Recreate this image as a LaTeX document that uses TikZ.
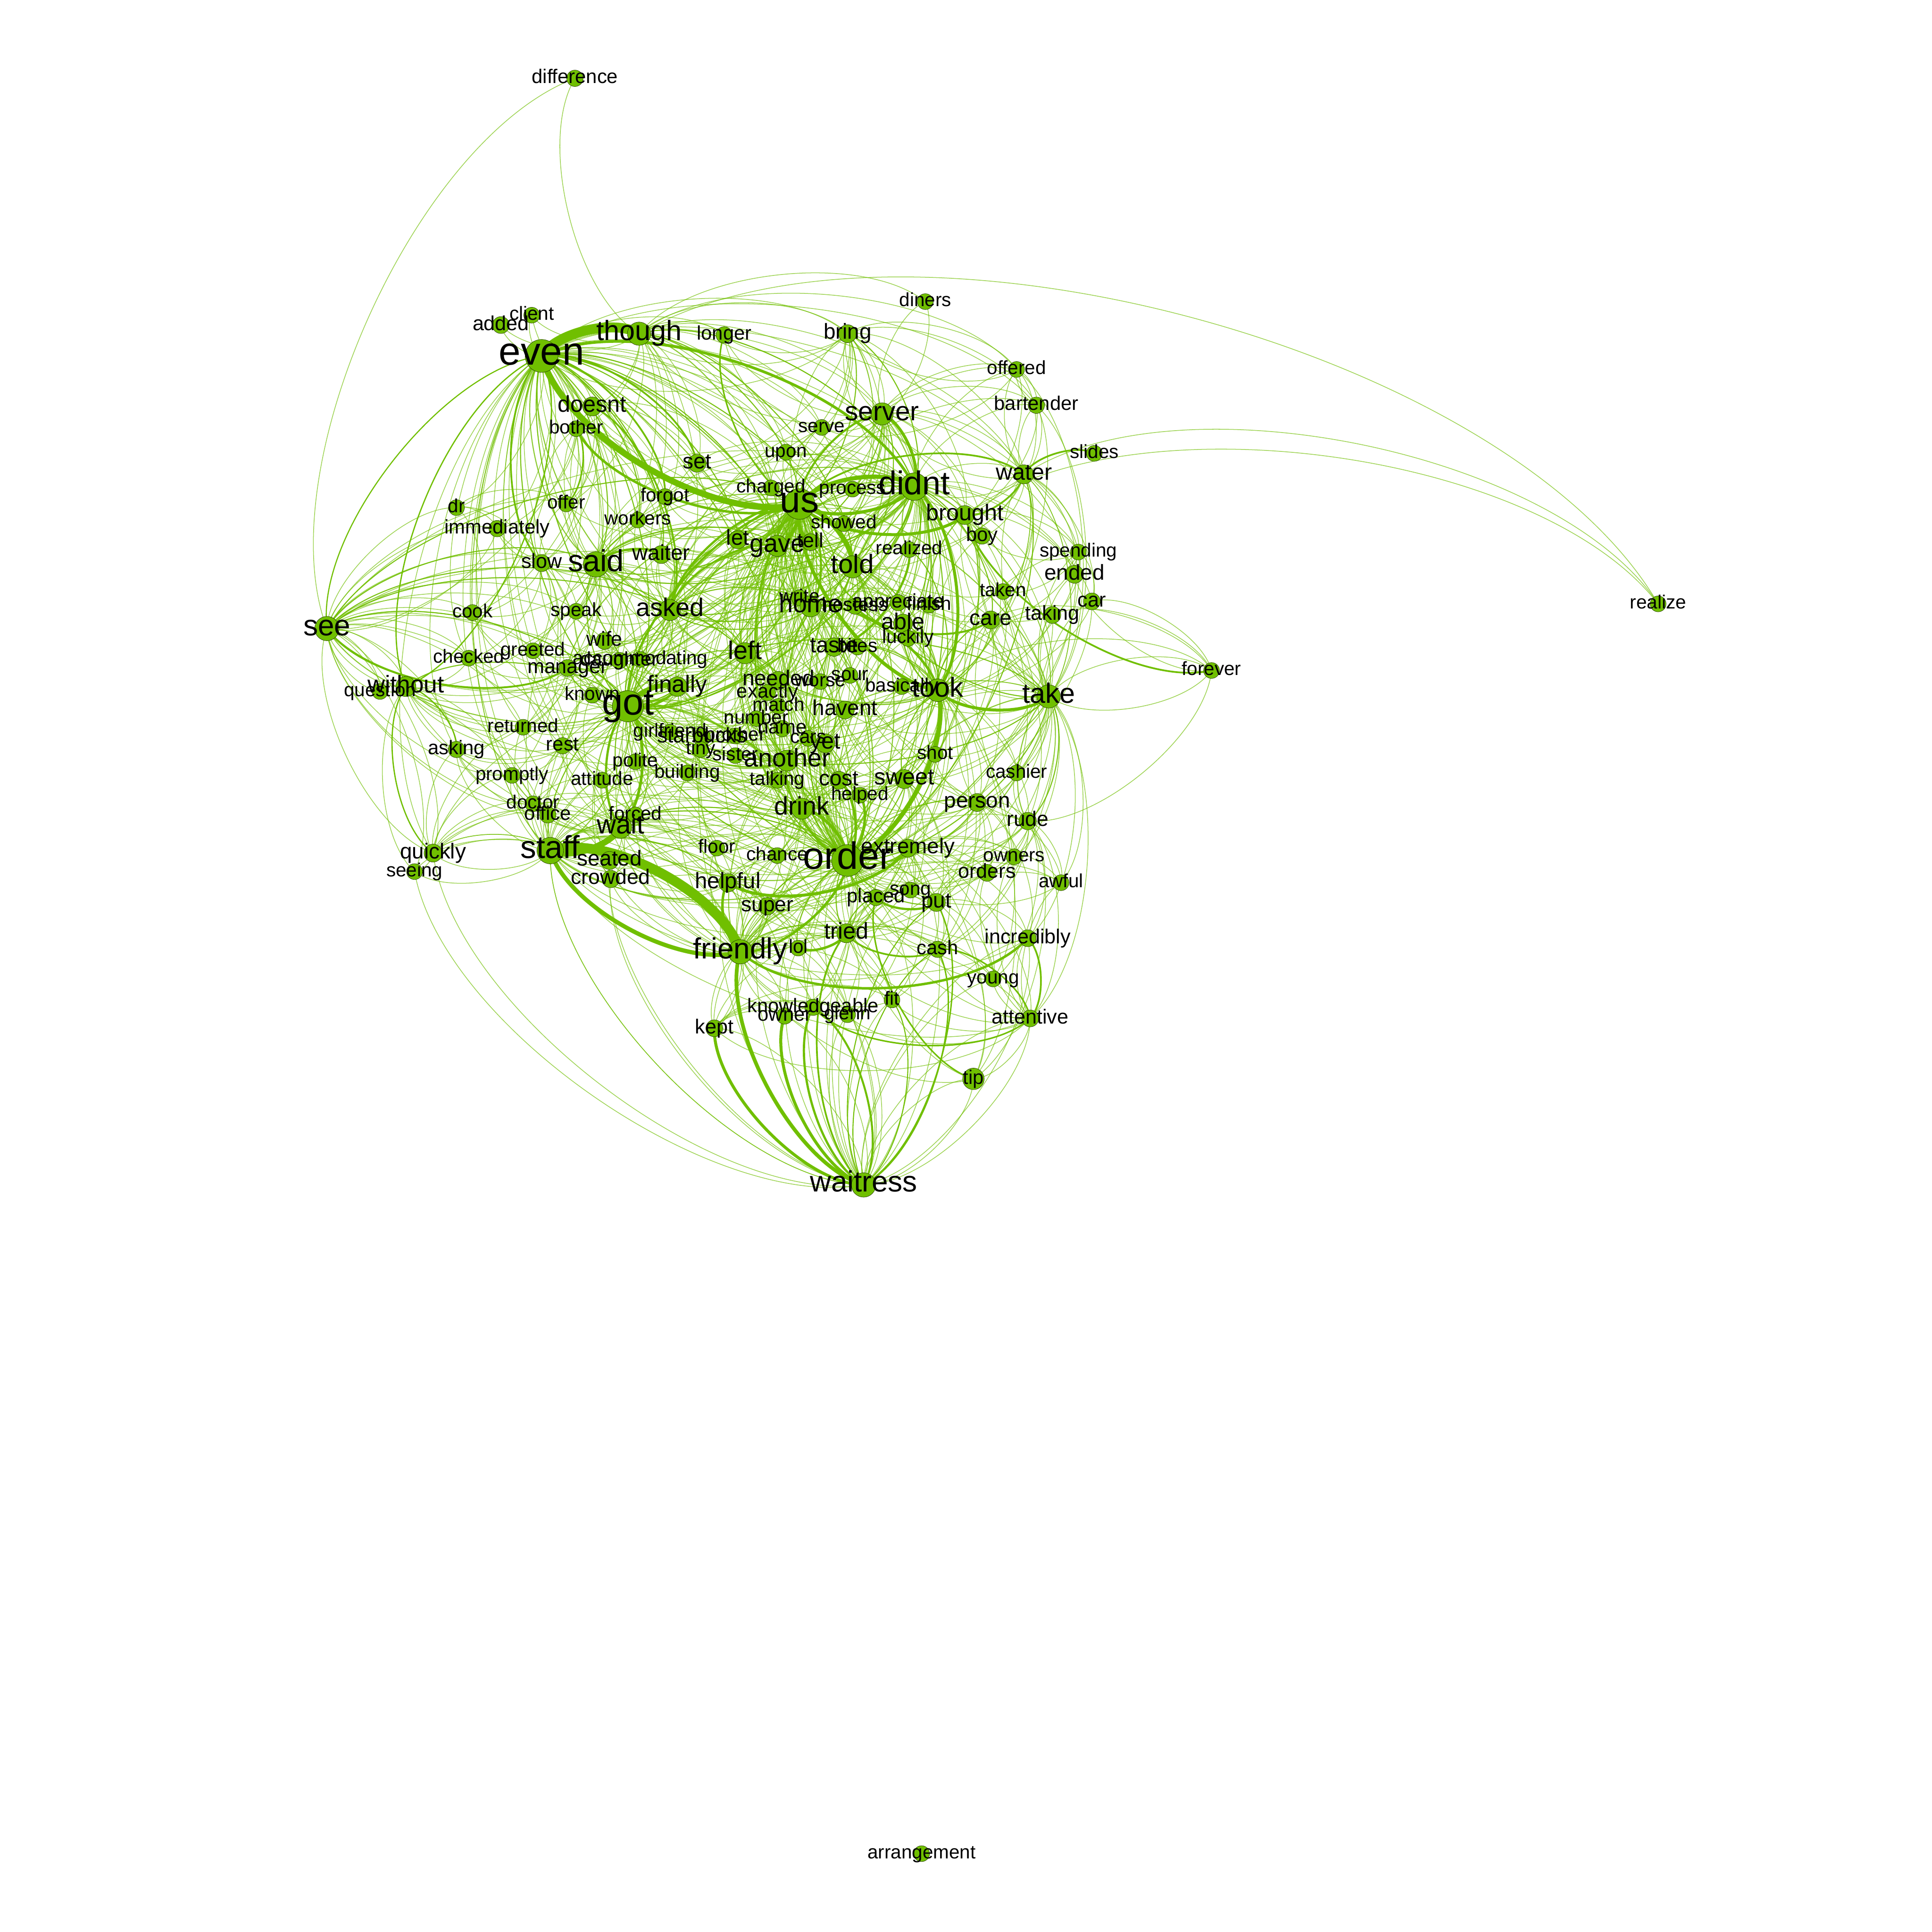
\documentclass[tikz,border=0pt]{standalone}
\usepackage{fontspec}
\setmainfont{Liberation Sans}
\pgfdeclarelayer{edges}
\pgfdeclarelayer{labels}
\pgfsetlayers{edges,main,labels}
\definecolor{vcol}{HTML}{70BF00}
\tikzset{
  x=1pt,y=1pt,
  vtx/.style={circle,fill=vcol,draw=black!75!vcol,line width=.25pt,inner sep=0pt},
  lab/.style={anchor=base,inner sep=0pt,text=black},
  gedge/.style={bend left=45,looseness=.72},
  thinedge/.style={gedge,draw=vcol,opacity=.68,line width=.58pt},
  heavyedge/.style={gedge,draw=vcol}
}
\newcommand\V[6][]{%
  \node[vtx,minimum size={0.86*#5 pt},#1] (#2) at (#3,1565.5-#4) {};
  \pgfmathsetmacro\fsz{1.03*#5}
  \begin{pgfonlayer}{labels}
  \node[lab,font=\fontsize{\fsz}{\fsz}\selectfont] (#2-l) at ([yshift={-0.2*#5 pt-1pt}]#2.center) {#6};
  \end{pgfonlayer}}
\newcommand\hubout[2]{\foreach \t in {#2}{\draw[thinedge] (#1.center) to (\t.center);}}
\newcommand\hubin[2]{\foreach \t in {#2}{\draw[thinedge] (\t.center) to (#1.center);}}
\begin{document}
\begin{tikzpicture}
\useasboundingbox (0,0) rectangle (1566,1566);
\begin{pgfonlayer}{edges}
\fill[white] (0,0) rectangle (1566,1566);
\end{pgfonlayer}
\V{difference}{466}{63}{15.5}{difference}
\V{client}{431}{255}{15}{client}
\V{added}{406}{263}{16}{added}
\V{though}{518}{270}{22}{though}
\V{longer}{587}{271}{15.5}{longer}
\V{bring}{687}{270}{17}{bring}
\V{diners}{750}{244}{15}{diners}
\V{even}{439}{288}{31}{even}
\V{offered}{824}{299}{15}{offered}
\V{doesnt}{480}{329}{18}{doesnt}
\V{bartender}{840}{328}{15.5}{bartender}
\V{bother}{467}{347}{15}{bother}
\V{serve}{666}{346}{15}{serve}
\V{server}{715}{335}{21}{server}
\V{upon}{637}{366}{15}{upon}
\V{slides}{887}{367}{15}{slides}
\V{set}{565}{375}{17}{set}
\V{water}{830}{384}{18}{water}
\V{charged}{625}{395}{15}{charged}
\V{process}{691}{396}{15}{process}
\V{didnt}{741}{394}{26}{didnt}
\V{forgot}{539}{402}{15}{forgot}
\V{us}{648}{408}{29}{us}
\V{dr}{370}{411}{15}{dr}
\V{offer}{459}{408}{15}{offer}
\V{brought}{782}{417}{18}{brought}
\V{workers}{517}{421}{15}{workers}
\V{showed}{684}{424}{15}{showed}
\V{immediately}{403}{428}{15.5}{immediately}
\V{boy}{796}{434}{15.5}{boy}
\V{let}{598}{437}{17}{let}
\V{gave}{630}{442}{20}{gave}
\V{tell}{657}{439}{16}{tell}
\V{realized}{737}{445}{15}{realized}
\V{spending}{874}{447}{15}{spending}
\V{waiter}{536}{449}{17}{waiter}
\V{slow}{439}{456}{16}{slow}
\V{said}{483}{457}{24}{said}
\V{told}{691}{459}{21}{told}
\V{ended}{871}{465}{17}{ended}
\V{taken}{813}{479}{15}{taken}
\V{car}{885}{487}{16}{car}
\V{realize}{1344}{489}{15}{realize}
\V{write}{648}{484}{15}{write}
\V{home}{657}{491}{20}{home}
\V{hostess}{693}{491}{15}{hostess}
\V{appreciate}{728}{488}{15.5}{appreciate}
\V{finish}{753}{490}{15}{finish}
\V{cook}{383}{496}{15}{cook}
\V{speak}{467}{495}{15}{speak}
\V{asked}{543}{494}{20}{asked}
\V{care}{803}{502}{17}{care}
\V{able}{732}{505}{18}{able}
\V{taking}{853}{498}{16}{taking}
\V{luckily}{736}{517}{15}{luckily}
\V{wife}{490}{519}{16}{wife}
\V{left}{604}{529}{20}{left}
\V{greeted}{432}{527}{15}{greeted}
\V{taste}{676}{524}{17.5}{taste}
\V{bites}{695}{524}{15}{bites}
\V{checked}{380}{533}{15}{checked}
\V{accommodating}{519}{534}{15}{accommodating}
\V{daughter}{502}{535}{15.5}{daughter}
\V{manager}{460}{541}{16}{manager}
\V{exactly}{622}{561}{15.5}{exactly}
\V{needed}{631}{551}{17}{needed}
\V{worse}{665}{552}{15}{worse}
\V{sour}{689}{547}{15}{sour}
\V{basically}{731}{556}{15}{basically}
\V{took}{760}{559}{21.5}{took}
\V{take}{850}{564}{22}{take}
\V{forever}{982}{543}{15}{forever}
\V{finally}{549}{556}{18.5}{finally}
\V{known}{480}{563}{15}{known}
\V{got}{509}{572}{29.5}{got}
\V{without}{329}{556}{19}{without}
\V{question}{308}{560}{15}{question}
\V{see}{265}{509}{23}{see}
\V{havent}{685}{575}{17}{havent}
\V{match}{631}{572}{15}{match}
\V{number}{613}{582}{15}{number}
\V{name}{634}{590}{15.5}{name}
\V{returned}{424}{589}{15}{returned}
\V{girlfriend}{543}{593}{15}{girlfriend}
\V{starbucks}{569}{597}{16.5}{starbucks}
\V{brother}{596}{596}{15}{brother}
\V{cars}{655}{598}{15}{cars}
\V{yet}{669}{602}{18}{yet}
\V{rest}{456}{604}{15.5}{rest}
\V{asking}{370}{607}{15.5}{asking}
\V{tiny}{568}{607}{15}{tiny}
\V{sister}{596}{612}{15}{sister}
\V{another}{638}{616}{20}{another}
\V{shot}{758}{611}{15}{shot}
\V{polite}{515}{617}{15}{polite}
\V{promptly}{415}{628}{15}{promptly}
\V{building}{557}{626}{15}{building}
\V{attitude}{488}{632}{15}{attitude}
\V{talking}{630}{632}{15}{talking}
\V{cost}{680}{632}{17}{cost}
\V{sweet}{733}{631}{18}{sweet}
\V{cashier}{824}{626}{15}{cashier}
\V{helped}{697}{644}{15}{helped}
\V{doctor}{432}{651}{15}{doctor}
\V{person}{792}{650}{17}{person}
\V{drink}{650}{655}{20}{drink}
\V{office}{444}{660}{15.5}{office}
\V{forced}{515}{660}{15}{forced}
\V{rude}{833}{665}{16.5}{rude}
\V{wait}{503}{670}{21}{wait}
\V{extremely}{736}{687}{17}{extremely}
\V{floor}{581}{687}{15}{floor}
\V{chance}{630}{693}{15}{chance}
\V{staff}{446}{689}{25}{staff}
\V{owners}{822}{694}{15}{owners}
\V{seated}{494}{697}{17}{seated}
\V{order}{687}{697}{30}{order}
\V{quickly}{351}{691}{17}{quickly}
\V{seeing}{336}{706}{15}{seeing}
\V{crowded}{495}{712}{16.5}{crowded}
\V{orders}{800}{707}{16}{orders}
\V{awful}{860}{715}{15}{awful}
\V{helpful}{590}{715}{17.5}{helpful}
\V{song}{738}{721}{15}{song}
\V{placed}{710}{727}{15.5}{placed}
\V{put}{759}{731}{17}{put}
\V{super}{622}{734}{16.5}{super}
\V{tried}{686}{756}{18}{tried}
\V{incredibly}{833}{760}{16}{incredibly}
\V{friendly}{600}{771}{23}{friendly}
\V{lol}{647}{768}{15}{lol}
\V{cash}{760}{769}{15.5}{cash}
\V{young}{805}{793}{15}{young}
\V{fit}{723}{810}{15}{fit}
\V{knowledgeable}{659}{816}{15.5}{knowledgeable}
\V{attentive}{835}{825}{16}{attentive}
\V{owner}{636}{823}{15.5}{owner}
\V{glenn}{687}{822}{15}{glenn}
\V{kept}{579}{833}{16}{kept}
\V[minimum size=17.5pt]{tip}{789}{874}{15.5}{tip}
\V{waitress}{700}{960}{23}{waitress}
\V{arrangement}{747}{1502}{15}{arrangement}
\begin{pgfonlayer}{edges}
% single far connectors
\hubout{though}{realize,difference,bring,diners}
\hubout{water}{realize,spending}
\hubout{brought}{realize,spending,ended}
\hubout{see}{difference}
\hubout{diners}{server}
\hubin{forever}{took,take,care,car,taking}
\hubout{forever}{take,rude,ended}
% hub stars
\hubout{us}{client,bring,doesnt,serve,upon,set,charged,process,forgot,offer,workers,showed,bartender,offered,boy,slow,said,waiter,speak,wife,greeted,manager,daughter,accommodating,known,finally,rest,polite,girlfriend,starbucks,tiny,brother,sister,building}
\hubin{us}{let,gave,tell,write,hostess,appreciate,finish,able,luckily,taste,bites,left,needed,exactly,worse,sour,match,number,name,cars,yet,another,talking,cost,havent,basically,realized,take,care,taken,taking,shot,sweet,person,rude,orders,forced,wait,floor,chance,helped,drink,extremely,helpful,put,super,tried,cash,friendly,order}
\hubout{order}{let,gave,tell,told,home,hostess,appreciate,finish,able,luckily,taste,bites,left,needed,exactly,worse,sour,match,number,name,cars,yet,talking,havent,basically,realized}
\hubin{order}{take,care,taken,taking,ended,car,shot,cashier,person,rude,owners,orders,awful,forced,wait,seated,crowded,floor,chance,extremely,helpful,song,placed,put,super,tried,lol,cash,incredibly,young,fit,knowledgeable,owner,glenn,attentive,kept,tip,staff,asked,said,polite,building,tiny,sister,attitude,known,spending,water}
\hubout{got}{slow,said,waiter,cook,speak,asked,wife,greeted,checked,manager,daughter,accommodating,known,returned,rest,asking,promptly,polite,attitude,girlfriend,starbucks,tiny,brother,sister,building}
\hubin{got}{let,gave,tell,told,write,home,hostess,left,needed,exactly,worse,sour,match,number,name,cars,yet,another,talking,cost,havent,took,take,sweet,person,doctor,office,forced,seated,crowded,floor,chance,helped,drink,extremely,helpful,super,tried,friendly,order,didnt,even,see,without}
\hubout{even}{client,added,longer,bring,doesnt,bother,serve,server,upon,charged,process,offer,dr,workers,immediately,showed,bartender,water,brought,said,waiter,cook,speak,asked,wife,greeted,manager,known,finally,let,gave,tell,told,write,home,left,take,took}
\hubin{even}{checked,daughter,returned,rest,asking,promptly,staff,wait,office,doctor,attitude,forced,quickly,friendly,needed,another,taste,order,got}
\hubout{didnt}{longer,bring,serve,upon,charged,process,showed,bartender,offered,water,brought,boy,spending,ended,taken,care,car,taking,taste,bites,home,hostess,appreciate,finish,able,luckily,told,tell,gave,let,left,needed,realized,sweet,shot,person,take,rude,cashier,cost,drink,order,friendly,tried,asked,said,waiter,finally,got}
\hubin{didnt}{though,forgot,workers,set,write,worse,sour,havent,basically,yet,cars,name,another}
\hubout{friendly}{floor,chance,helped,drink,extremely,song,placed,put,super,tried,lol,cash,young,fit,knowledgeable,owner,glenn,attentive,kept,seated,crowded,wait,forced,sweet,person,rude,owners,orders,awful,building,talking,another,attitude}
\hubin{friendly}{glenn,fit,cash,owner,super,kept,knowledgeable,doctor,office,polite,left,needed,tip}
\hubout{staff}{doctor,office,forced,seated,crowded,floor,chance,helpful,super,tried,order,attitude,polite,promptly,rest,returned,building,asking,quickly,seeing,got,finally,asked,said,another,drink,even}
\hubin{staff}{rude,extremely,tiny,girlfriend,talking,cost,sweet,put,attentive,incredibly,waitress,quickly,seeing,question,without}
\hubout{see}{without,question,quickly,seeing,immediately,dr,offer,cook,checked,greeted,returned,asking,rest,speak,said,slow,wife,known,got,left,took,take,asked,us,order,didnt}
\hubin{see}{without,question,quickly,promptly,bother,doctor,office,immediately,daughter,accommodating}
\hubin{without}{seeing,promptly,returned,manager,checked,said,got,rest,finally,order,us,took}
\hubout{quickly}{seeing,staff,asking,promptly,got,order,wait,friendly,doctor,office,returned}
\hubout{waitress}{super,lol,helpful,seated,crowded,seeing,quickly,placed,song,extremely,fit,glenn,young,tip,attentive,incredibly,order,staff}
\hubin{waitress}{glenn,tip,attentive,lol,placed,extremely,incredibly,owner,kept,super}
\hubout{take}{care,taken,taking,ended,car,shot,cashier,person,rude,owners,orders,awful,sweet,put,cash,incredibly,attentive,extremely,able,boy,spending,brought,water,basically,havent,cost,friendly,tried}
\hubin{take}{brought,water,didnt,got,left,home,told,drink,another,yet,bartender,offered}
\hubout{took}{care,taken,taking,shot,cashier,person,rude,sweet,put,extremely,able,luckily,finish,appreciate,boy,spending,brought,basically,havent,cost,friendly,tried,another,drink,yet,left,asked,said,finally,got,told,realized,tip,cash,young}
\hubin{took}{basically,luckily,able,realized,sweet,shot,cost,car,ended,taking,water,bartender}
\hubout{another}{talking,cost,yet,cars,name,number,match,exactly,needed,sister,brother,tiny,starbucks,building,girlfriend,attitude,polite,drink,helped,floor,chance,super,helpful,tried,wait,forced,rest,known,left,asked,gave}
\hubout{home}{write,hostess,appreciate,finish,able,luckily,taste,bites,left,needed,exactly,worse,sour,havent,yet,drink,asked,said,waiter,let,tell,gave}
\hubout{told}{hostess,appreciate,finish,able,luckily,taste,bites,left,needed,worse,sour,havent,yet,asked,said,waiter,let,tell,gave,write,realized,sweet,drink,cost,shot}
\hubout{said}{slow,waiter,cook,speak,asked,wife,greeted,checked,manager,daughter,accommodating,known,finally,offer,immediately,workers,forgot,set,bother,doesnt,let,gave,tell,left,home,charged,returned}
\hubout{asked}{waiter,speak,wife,greeted,manager,daughter,accommodating,known,finally,let,gave,tell,left,write,home,workers,forgot,set,charged,upon,serve,server,process,showed}
\hubout{drink}{talking,cost,helped,chance,floor,super,helpful,extremely,song,placed,put,tried,lol,sweet,person,forced,wait,building,sister,tiny,left,finally}
\hubout{gave}{let,tell,write,home,left,asked,said,waiter,forgot,workers,charged,upon,set,serve,server,process,showed,needed,exactly,finally,manager,wife}
\hubout{left}{needed,exactly,match,number,name,brother,starbucks,girlfriend,finally,accommodating,daughter,asked,wife,let,write,taste,worse,cars,tiny,sister}
\hubout{server}{bring,serve,upon,process,charged,showed,offered,bartender,water,brought,boy,realized,let,gave,tell,told,home,forgot,set,longer,though,diners,spending,ended}
\hubout{wait}{forced,seated,crowded,floor,chance,office,doctor,attitude,polite,rest,returned,promptly,known,building,tiny,talking,helpful,super,tried,order,asking}
\hubout{finally}{accommodating,daughter,known,girlfriend,starbucks,wife,polite,tiny,building,needed,exactly,asked,said,manager,greeted,rest}
\hubout{bring}{though,longer,server,serve,didnt,upon,charged,process,brought,water,offered,bartender,us,set,even,showed,told}
\hubout{though}{longer,serve,server,set,upon,forgot,workers,offer,doesnt,bother,added,client,charged,us,didnt,asked,said,told,water,offered}
\hubout{water}{offered,bartender,didnt,boy,server,taken,care,car,ended,took,take,realized,us,told}
\hubout{person}{shot,cashier,rude,owners,orders,sweet,put,cash,extremely,care,cost,awful,incredibly}
\hubout{sweet}{shot,cost,helped,extremely,song,placed,put,cash,yet,havent,talking,tried}
\hubout{put}{song,placed,extremely,cash,young,fit,orders,owners,tip,tried,rude,awful,incredibly}
\hubout{rude}{owners,orders,awful,incredibly,attentive,young,cashier,care,extremely,cash,tip}
\hubout{attentive}{young,awful,fit,incredibly,owners,orders,tip,glenn,cash,tried,kept}
\hubout{tried}{lol,placed,song,cash,fit,glenn,knowledgeable,owner,super,helpful,chance,young,orders}
\hubout{extremely}{song,placed,owners,orders,awful,young,fit,glenn,incredibly,attentive,tip,super,chance,floor}
\hubout{helpful}{floor,chance,super,lol,knowledgeable,owner,kept,glenn,fit,seated,crowded,forced}
\hubout{cost}{helped,talking,yet,cars,havent,name,shot,number,match,worse,sour}
\hubout{manager}{greeted,checked,wife,daughter,accommodating,known,returned,rest,cook,speak,asking}
\hubout{slow}{immediately,offer,bother,cook,speak,greeted,checked,returned,rest,promptly}
\hubout{doesnt}{bother,offer,set,forgot,charged,slow,cook,speak,workers}
\hubout{bother}{slow,speak,immediately,workers,forgot,waiter}
\hubout{rest}{returned,promptly,attitude,polite,known,doctor,office,forced,asking,building}
\hubout{doctor}{office,promptly,asking,attitude,forced,seated,crowded}
\hubout{spending}{ended,car,taking,taken,boy,care}
\hubout{bartender}{offered,water,brought}
\hubout{offered}{water,bartender,brought,bring,serve}
\hubout{kept}{fit,knowledgeable,owner,glenn,tried}
\hubout{dr}{offer,immediately,cook,slow}
% medium connectors in the dense middle
\foreach \a/\b in {
 us/let,us/tell,gave/us,let/us,us/write,write/us,asked/let,asked/left,left/us,us/left,needed/us,us/needed,got/left,left/got,got/asked,asked/got,got/said,said/got,got/home,home/got,got/told,told/got,got/gave,gave/got,finally/us,us/finally,waiter/us,said/us,us/said,asked/home,asked/told,home/asked,told/asked,said/gave,said/told,manager/us,got/manager,manager/got,got/another,another/got,another/us,us/another,another/order,drink/got,got/drink,drink/us,home/order,order/home,told/order,order/told,left/order,order/left,yet/order,taste/order,order/taste,us/taste,taste/took,bites/took,told/took,sweet/took,took/sweet,shot/order,order/shot,another/took,took/left,person/order,order/person,extremely/order,order/extremely,put/order,order/put,wait/order,order/wait,friendly/super,super/friendly,friendly/tried,tried/order,order/tried,placed/order,lol/order,tried/placed,placed/tried,super/order,got/order,order/got,staff/got,got/staff,staff/order,order/staff,staff/helpful,got/forced,forced/got,didnt/got,got/didnt,didnt/told,told/didnt,didnt/home,didnt/gave,gave/didnt,didnt/asked,asked/didnt,said/didnt,didnt/said,didnt/order,order/didnt,didnt/another,server/order,server/got,server/gave,server/told,bring/us,bring/didnt,even/said,said/even,even/asked,asked/even,even/got,got/even,even/told,even/gave,even/home,even/let,even/order,order/even,even/another,even/waiter,even/workers,though/us,though/didnt,though/told,though/gave,got/take,take/got,take/order,order/take,care/took,take/us,us/take,realized/took,able/took,took/able,took/care,didnt/able,didnt/care,didnt/realized,realized/didnt,brought/took,took/brought,brought/order,water/order,rude/take,take/rude,see/got,got/see,see/us,see/left,see/said,see/asked,without/got,sweet/order}
 {\draw[heavyedge,opacity=.8,line width=.85pt] (\a.center) to (\b.center);}
% heavy connectors
\foreach \a/\b/\w in {
 even/though/8, us/even/5, us/bother/2, even/didnt/2.2, us/didnt/3.4, didnt/us/2.6,
 us/told/4, us/gave/3, brought/us/2.4, take/took/2.4, took/order/3.6, took/us/2.8, home/took/2,
 got/finally/4, finally/got/2, got/wait/2.2, wait/got/1.8, wait/staff/5, staff/friendly/8, friendly/staff/3.4,
 friendly/helpful/2, extremely/helpful/2.4, order/friendly/2, incredibly/friendly/2, waitress/friendly/3,
 waitress/kept/2.4, waitress/owner/2.4, waitress/knowledgeable/1.8, knowledgeable/waitress/1.6,
 waitress/tried/1.4, waitress/cash/.8, cash/waitress/1.1, put/waitress/1.1, waitress/put/.8, fit/waitress/.8, tried/lol/2, cash/tried/1.4, cash/attentive/1.2,
 attentive/knowledgeable/1.2, incredibly/attentive/1.4, put/placed/1.8, drink/order/2.4,
 see/even/.9, even/without/1, without/even/1, water/brought/1.4, water/slides/1.4, us/water/1.4, server/didnt/2.4, us/server/1.6,
 didnt/took/2.4, realized/taste/1.8, care/hostess/1.6, forever/brought/1.4, manager/see/1.5, without/asking/1, quickly/without/1,
 said/waiter/1.8, asked/us/1.8, got/us/1.8, asked/gave/1.5, helped/order/2, cost/order/2, order/another/1.5,
 tip/placed/1.2, us/home/1.6, tell/us/2.4, even/set/1.4, even/forgot/1.4, us/longer/1.2, slow/even/1.4, bother/offer/1.2, doesnt/asked/1.4}
 {\draw[heavyedge,line width=\w pt] (\a.center) to (\b.center);}
\end{pgfonlayer}
\end{tikzpicture}
\end{document}
